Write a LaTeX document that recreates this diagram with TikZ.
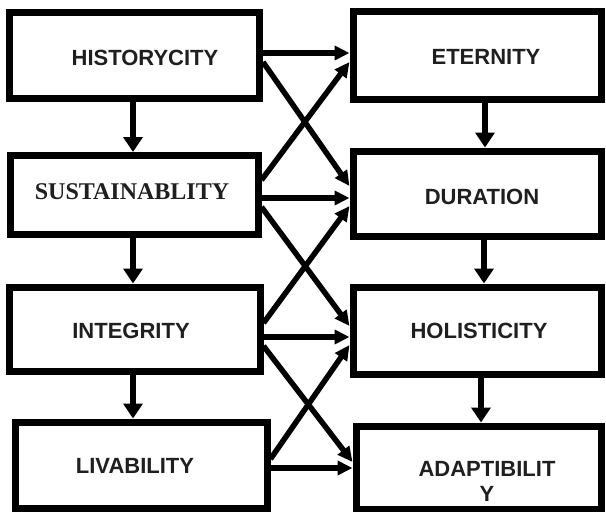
\documentclass[tikz,border=0pt]{standalone}
\usepackage{fontspec}
\setmainfont{Liberation Sans}
\newfontfamily\timesbold{Liberation Serif}
\usetikzlibrary{arrows.meta}
\begin{document}
\begin{tikzpicture}[x=1pt,y=-1pt,
  box/.style={draw=black, line width=7pt, rectangle, inner sep=0pt, fill=white},
  lbl/.style={font=\fontsize{22}{25}\selectfont\bfseries, text=black!88, inner sep=0pt, align=center},
  link/.style={line width=5.5pt, -{Triangle[length=15pt,width=14pt]}},
  vlink/.style={line width=6pt, -{Triangle[length=15pt,width=19pt]}},
]
\useasboundingbox (0,0) rectangle (606,512);

% left column
\node[box, minimum width=250pt, minimum height=86pt] (h)  at (134.5,55)  {};
\node[box, minimum width=248pt, minimum height=79pt] (s)  at (134,195)   {};
\node[box, minimum width=251pt, minimum height=84pt] (i)  at (134.5,329) {};
\node[box, minimum width=252pt, minimum height=86pt] (l)  at (141,465)   {};
% right column
\node[box, minimum width=248pt, minimum height=88pt] (e)  at (477,55)    {};
\node[box, minimum width=248pt, minimum height=85pt] (d)  at (477,193.5) {};
\node[box, minimum width=248pt, minimum height=87pt] (ho) at (477,330.5) {};
\node[box, minimum width=245pt, minimum height=83pt] (a)  at (478.5,467.5) {};

% labels
\node[lbl] (h-t)  at (145,58)  {HISTORYCITY};
\node[lbl, font=\fontsize{24}{28}\selectfont\timesbold\bfseries] (s-t) at (132,192) {SUSTAINABLITY};
\node[lbl] (i-t)  at (131,331) {INTEGRITY};
\node[lbl] (l-t)  at (135,466) {LIVABILITY};
\node[lbl] (e-t)  at (486,57)  {ETERNITY};
\node[lbl] (d-t)  at (482,197) {DURATION};
\node[lbl] (ho-t) at (479,331) {HOLISTICITY};
\node[lbl] (a-t)  at (487,481.5) {ADAPTIBILIT\\Y};

% vertical flow
\draw[vlink] ([xshift=-1.5pt]h.south) -- ([xshift=-1pt]s.north);
\draw[vlink] ([xshift=-1pt]s.south) -- ([xshift=-1.5pt]i.north);
\draw[vlink] ([xshift=-1.5pt]i.south) -- ([xshift=-8pt]l.north);
\draw[vlink] ([xshift=8pt]e.south) -- ([xshift=8pt]d.north);
\draw[vlink] ([xshift=7pt]d.south) -- ([xshift=7pt]ho.north);
\draw[vlink] ([xshift=4pt]ho.south) -- ([xshift=2.5pt]a.north);

% cross links
\draw[link] ([yshift=2pt]h.east)   -- ([yshift=2pt]e.west);
\draw[link] ([yshift=-7pt]h.east)  -- ([yshift=7.5pt]d.west);
\draw[link] ([yshift=15pt]s.east)  -- ([yshift=-7pt]e.west);
\draw[link] ([yshift=-3pt]s.east)  -- ([yshift=-4.5pt]d.west);
\draw[link] ([yshift=-12pt]s.east) -- ([yshift=4.5pt]ho.west);
\draw[link] ([yshift=6pt]i.east)   -- ([yshift=-12.5pt]d.west);
\draw[link] ([yshift=-8pt]i.east)  -- ([yshift=-6.5pt]ho.west);
\draw[link] ([yshift=-17pt]i.east) -- ([yshift=5.5pt]a.west);
\draw[link] ([yshift=6pt]l.east)   -- ([yshift=-14.5pt]ho.west);
\draw[link] ([yshift=-3pt]l.east)  -- ([yshift=-0.5pt]a.west);
\end{tikzpicture}
\end{document}
